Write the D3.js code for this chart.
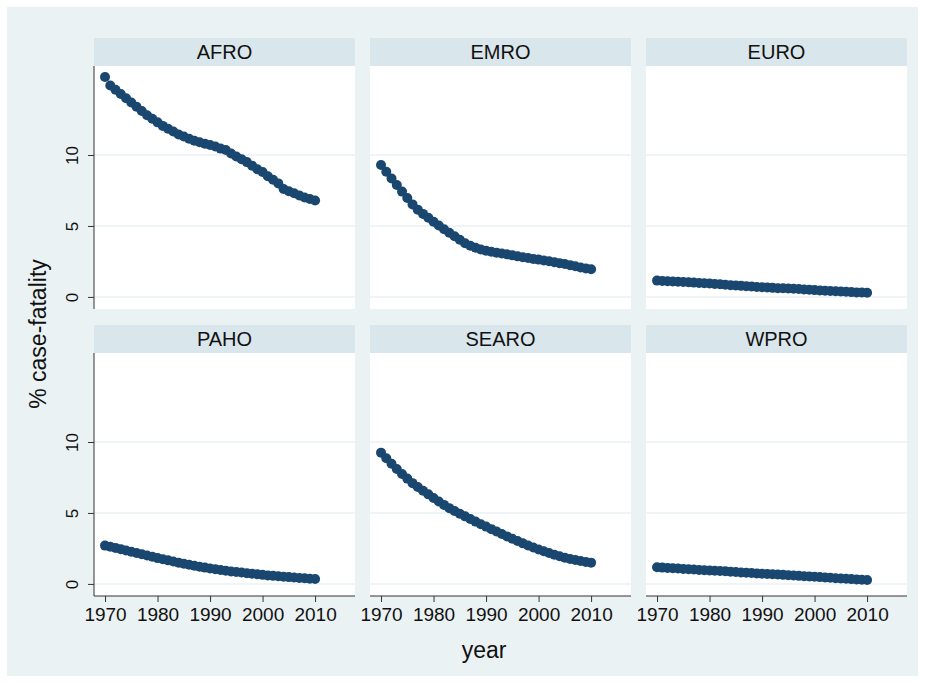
<!DOCTYPE html>
<html>
<head>
<meta charset="utf-8">
<script src="https://cdn.jsdelivr.net/npm/d3@7"></script>
<style>
  body { margin: 0; background: #fff; }
  text { font-family: "Liberation Sans", Arial, sans-serif; fill: #111; }
</style>
</head>
<body>
<div class="d3-chart"></div>
<script>
// data (one value per year, 1970-2010)
const regions = ["AFRO", "EMRO", "EURO", "PAHO", "SEARO", "WPRO"];
const years = d3.range(1970, 2011);
const xTicks = [1970, 1980, 1990, 2000, 2010];
const yTicks = [0, 5, 10];

const afro = [15.5, 14.9, 14.6, 14.3, 14.0, 13.7, 13.4, 13.1, 12.8, 12.55,
  12.3, 12.05, 11.85, 11.65, 11.45, 11.3, 11.15, 11.0, 10.9, 10.8,
  10.7, 10.6, 10.45, 10.35, 10.1, 9.9, 9.7, 9.5, 9.25, 9.0,
  8.8, 8.5, 8.25, 8.0, 7.6, 7.45, 7.3, 7.15, 7.0, 6.9, 6.8];
const emro = [9.3, 8.82, 8.35, 7.88, 7.42, 6.97, 6.52, 6.15, 5.85, 5.58,
  5.3, 5.03, 4.77, 4.52, 4.27, 4.03, 3.78, 3.6, 3.46, 3.34,
  3.25, 3.18, 3.12, 3.06, 3.0, 2.93, 2.86, 2.8, 2.74, 2.68,
  2.63, 2.57, 2.51, 2.45, 2.38, 2.32, 2.24, 2.16, 2.08, 2.01, 1.95];
const euro = [1.15, 1.13, 1.11, 1.09, 1.07, 1.05, 1.03, 1.01, 0.99, 0.97,
  0.95, 0.92, 0.89, 0.86, 0.83, 0.8, 0.78, 0.75, 0.73, 0.7,
  0.68, 0.66, 0.64, 0.62, 0.61, 0.6, 0.58, 0.56, 0.53, 0.5,
  0.48, 0.46, 0.44, 0.42, 0.4, 0.38, 0.36, 0.34, 0.32, 0.31, 0.3];
const paho = [2.7, 2.62, 2.54, 2.45, 2.36, 2.27, 2.18, 2.09, 2.0, 1.91,
  1.82, 1.74, 1.66, 1.58, 1.5, 1.42, 1.35, 1.28, 1.21, 1.15,
  1.09, 1.03, 0.98, 0.93, 0.88, 0.84, 0.8, 0.76, 0.72, 0.68,
  0.64, 0.6, 0.57, 0.54, 0.51, 0.48, 0.45, 0.42, 0.4, 0.37, 0.35];
const searo = [9.25, 8.85, 8.47, 8.1, 7.75, 7.42, 7.1, 6.83, 6.57, 6.31,
  6.06, 5.81, 5.57, 5.34, 5.14, 4.95, 4.76, 4.57, 4.39, 4.21,
  4.04, 3.86, 3.69, 3.52, 3.35, 3.18, 3.02, 2.86, 2.71, 2.57,
  2.43, 2.3, 2.18, 2.06, 1.95, 1.85, 1.76, 1.68, 1.61, 1.55, 1.5];
const wpro = [1.17, 1.15, 1.13, 1.11, 1.09, 1.06, 1.04, 1.02, 0.99, 0.97,
  0.95, 0.93, 0.91, 0.89, 0.86, 0.84, 0.81, 0.79, 0.77, 0.74,
  0.72, 0.7, 0.68, 0.66, 0.64, 0.62, 0.6, 0.57, 0.55, 0.52,
  0.5, 0.48, 0.45, 0.43, 0.4, 0.38, 0.36, 0.34, 0.32, 0.3, 0.28];
const series = [afro, emro, euro, paho, searo, wpro];

const W = 925, H = 683;
const plotW = 261, plotH = 243, stripH = 28;
const colX = [94, 370, 646];
const rowY = [38, 325];   // top of strip

const svg = d3.select(".d3-chart")
  .append("svg")
  .attr("width", W)
  .attr("height", H);

svg.append("rect")
  .attr("x", 7).attr("y", 7)
  .attr("width", 911).attr("height", 669)
  .attr("fill", "#eaf2f3");

const x = d3.scaleLinear().domain([1967.9, 2017.6]).range([0, plotW]);
const y = d3.scaleLinear().domain([-0.85, 16.27]).range([plotH, 0]);

regions.forEach((name, i) => {
  const col = i % 3, row = Math.floor(i / 3);
  const g = svg.append("g")
    .attr("transform", `translate(${colX[col]}, ${rowY[row]})`);

  // strip
  g.append("rect")
    .attr("width", plotW).attr("height", stripH)
    .attr("fill", "#d9e6eb");
  g.append("text")
    .attr("x", plotW / 2).attr("y", stripH / 2 + 7)
    .attr("text-anchor", "middle")
    .style("font-size", "20px")
    .text(name);

  const p = g.append("g").attr("transform", `translate(0, ${stripH})`);
  p.append("rect")
    .attr("width", plotW).attr("height", plotH)
    .attr("fill", "#fff");

  // gridlines
  p.selectAll(".grid")
    .data(yTicks)
    .join("line")
    .attr("x1", 0).attr("x2", plotW)
    .attr("y1", d => y(d)).attr("y2", d => y(d))
    .attr("stroke", "#eaf2f3")
    .attr("stroke-width", 1.5);

  // points
  p.append("g")
    .selectAll("circle")
    .data(years.map((yr, k) => ({year: yr, value: series[i][k]})))
    .join("circle")
    .attr("cx", d => x(d.year))
    .attr("cy", d => y(d.value))
    .attr("r", 5)
    .attr("fill", "#1a476f");

  if (col === 0) {
    const ax = p.append("g")
      .call(d3.axisLeft(y).tickValues(yTicks).tickSize(6).tickPadding(10));
    ax.select(".domain").attr("stroke", "#333").attr("d", `M0,0V${plotH}`);
    ax.selectAll(".tick line").attr("stroke", "#333");
    ax.selectAll(".tick text")
      .attr("x", null).attr("dy", null)
      .attr("transform", "translate(-22,0) rotate(-90)")
      .attr("text-anchor", "middle")
      .attr("dy", "0.35em")
      .style("font-size", "17px")
      .style("font-family", "Liberation Sans, Arial, sans-serif")
      .attr("fill", "#111");
  }

  if (row === 1) {
    const ax = p.append("g")
      .attr("transform", `translate(0, ${plotH})`)
      .call(d3.axisBottom(x).tickValues(xTicks).tickFormat(d3.format("d")).tickSize(6).tickPadding(6));
    ax.select(".domain").attr("stroke", "#333").attr("d", `M0,0H${plotW}`);
    ax.selectAll(".tick line").attr("stroke", "#333");
    ax.selectAll(".tick text")
      .style("font-size", "19px")
      .style("font-family", "Liberation Sans, Arial, sans-serif")
      .attr("fill", "#111");
  }
});

// axis titles
svg.append("text")
  .attr("transform", "translate(46, 334) rotate(-90)")
  .attr("text-anchor", "middle")
  .style("font-size", "23px")
  .text("% case-fatality");

svg.append("text")
  .attr("x", 484).attr("y", 658)
  .attr("text-anchor", "middle")
  .style("font-size", "23px")
  .text("year");
</script>
</body>
</html>
